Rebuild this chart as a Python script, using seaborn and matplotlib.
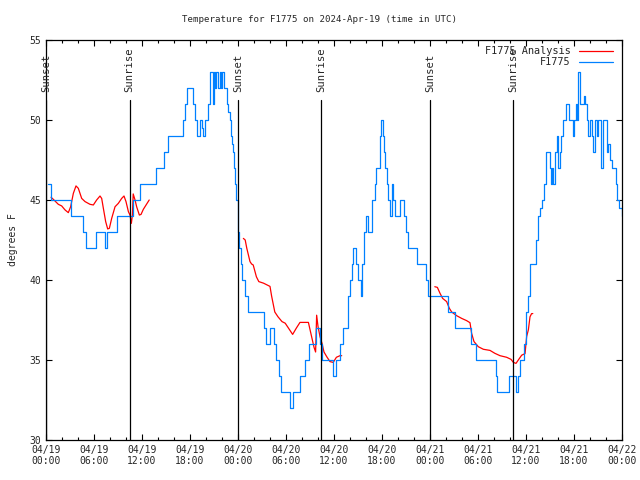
import numpy as np
import pandas as pd
import matplotlib
matplotlib.use("Agg")
import matplotlib.pyplot as plt
import seaborn as sns

# hours since 04/19 00:00 UTC
obs_hours = [0.25, 0.6, 3.1, 4.67, 5.0, 6.3, 7.35, 7.65, 8.9, 10.85, 11.75,
             13.8, 14.8, 15.3, 17.1, 17.4, 17.67, 18.4, 18.6, 18.9, 19.25, 19.45,
             19.6, 19.9, 20.3, 20.5, 20.83, 20.95, 21.1, 21.3, 21.5, 21.7, 21.85,
             22.0, 22.3, 22.6, 22.8, 22.95, 23.1, 23.25, 23.35, 23.5, 23.65, 23.8,
             24.0, 24.05, 24.1, 24.35, 24.5, 24.9, 25.3, 27.3, 27.55, 27.95, 28.5,
             28.8, 29.1, 29.4, 30.5, 30.9, 31.8, 32.4, 32.9, 33.8, 34.3, 34.5,
             35.9, 36.3, 36.75, 37.1, 37.75, 37.95, 38.2, 38.4, 38.8, 39.0, 39.35,
             39.55, 39.7, 40.0, 40.3, 40.8, 41.1, 41.3, 41.7, 41.9, 42.1, 42.2,
             42.4, 42.6, 42.8, 43.0, 43.2, 43.4, 43.6, 44.25, 44.7, 45.0, 45.3,
             46.4, 47.5, 47.8, 50.2, 51.1, 53.1, 53.7, 56.2, 56.4, 57.9, 58.75,
             59.0, 59.3, 59.8, 60.0, 60.3, 60.45, 61.3, 61.5, 61.75, 61.95, 62.25,
             62.5, 63.0, 63.1, 63.2, 63.4, 63.6, 63.83, 64.05, 64.2, 64.33, 64.46,
             64.67, 65.0, 65.4, 65.7, 65.9, 66.0, 66.2, 66.33, 66.55, 66.75, 67.2,
             67.4, 67.6, 67.8, 68.0, 68.2, 68.4, 68.6, 68.83, 69.0, 69.4, 69.65,
             70.1, 70.3, 70.5, 70.7, 71.25, 71.4, 71.6, 72.0]
obs_temps = [46, 45, 44, 43, 42, 43, 42, 43, 44, 45, 46,
             47, 48, 49, 50, 51, 52, 51, 50, 49, 50, 49.5,
             49, 50, 51, 53, 51, 53, 52, 53, 52, 53, 52,
             53, 52, 51, 50.5, 50, 49, 48.5, 48, 47, 46, 45,
             44, 43, 42, 41, 40, 39, 38, 37, 36, 37, 36,
             35, 34, 33, 32, 33, 34, 35, 36, 37, 36, 35,
             34, 35, 36, 37, 39, 40, 41, 42, 41, 40, 39,
             41, 43, 44, 43, 45, 46, 47, 49, 50, 49, 48,
             47, 46, 45, 44, 46, 45, 44, 45, 44, 43, 42,
             41, 40, 39, 38, 37, 36, 35, 34, 33, 34, 33,
             34, 35, 36, 38, 39, 41, 42.5, 44, 44.5, 45, 46,
             48, 47, 46, 47, 46, 48, 49, 47, 48, 49, 49,
             50, 51, 50, 50, 49, 50, 51, 50, 53, 51, 51.5,
             51, 50, 49, 50, 49, 48, 50, 49, 50, 47, 50,
             48, 48.5, 47.5, 47, 46, 45, 44.5, 44]

ana_seg = [1] * 38 + [2] * 36 + [3] * 31
ana_hours = [0.63, 0.92, 1.54, 1.96, 2.38, 2.79, 3.08, 3.42, 3.75, 4.04, 4.46,
             4.88, 5.5, 5.92, 6.33, 6.75, 6.96, 7.17, 7.46, 7.71, 7.92, 8.21,
             8.63, 9.04, 9.46, 9.75, 10.0, 10.3, 10.5, 10.67, 10.8, 10.9, 11.13,
             11.33, 11.67, 11.88, 12.17, 12.9,
             24.67, 24.9, 25.1, 25.5, 25.7, 25.9, 26.3, 26.6, 27.2, 27.6, 28.0,
             28.2, 28.6, 29.0, 29.5, 29.9, 30.3, 30.83, 31.3, 31.75, 32.2, 32.8,
             33.2, 33.5, 33.7, 33.83, 34.0, 34.25, 34.5, 34.75, 35.1, 35.5, 35.9,
             36.3, 36.75, 36.96,
             48.6, 48.92, 49.25, 49.58, 50.08, 50.42, 50.71, 51.33, 51.96, 52.58,
             53.0, 53.2, 53.5, 54.04, 54.67, 55.5, 56.1, 56.75, 57.58, 58.13,
             58.42, 58.75, 59.04, 59.46, 59.88, 60.08, 60.3, 60.5, 60.7, 60.8, 60.85]
ana_temps = [45.17, 45.04, 44.73, 44.63, 44.38, 44.21, 44.58, 45.42, 45.88, 45.73, 45.1,
             44.9, 44.73, 44.69, 45.0, 45.25, 45.1, 44.48, 43.65, 43.19, 43.23, 43.85,
             44.58, 44.79, 45.1, 45.25, 44.9, 44.27, 44.06, 43.54, 44.06, 45.38, 45.0,
             44.58, 44.06, 44.1, 44.42, 45.0,
             42.6, 42.5, 41.98, 41.15, 41.0, 40.94, 40.2, 39.9, 39.8, 39.7, 39.6,
             39.0, 38.0, 37.7, 37.4, 37.3, 37.0, 36.6, 37.0, 37.35, 37.35, 37.35,
             36.46, 35.8, 35.5, 37.8, 37.1, 36.46, 36.04, 35.5, 35.2, 34.9, 34.85,
             35.17, 35.27, 35.27,
             39.58, 39.54, 39.17, 38.85, 38.65, 38.23, 38.0, 37.77, 37.6, 37.46,
             37.33, 36.67, 36.15, 35.83, 35.67, 35.6, 35.42, 35.27, 35.17, 35.04,
             34.85, 34.79, 35.0, 35.3, 35.4, 36.46, 36.9, 37.7, 37.9, 37.9, 37.9]

sun_hours = [0.05, 10.45, 24.04, 34.38, 48.0, 58.4]
sun_labels = ["Sunset", "Sunrise", "Sunset", "Sunrise", "Sunset", "Sunrise"]

tick_hours = list(range(0, 73, 6))
tick_labels = ["04/19\n00:00", "04/19\n06:00", "04/19\n12:00", "04/19\n18:00",
               "04/20\n00:00", "04/20\n06:00", "04/20\n12:00", "04/20\n18:00",
               "04/21\n00:00", "04/21\n06:00", "04/21\n12:00", "04/21\n18:00",
               "04/22\n00:00"]

obs = pd.DataFrame({"hour": obs_hours, "temp": obs_temps})
ana = pd.DataFrame({"hour": ana_hours, "temp": ana_temps, "seg": ana_seg})

sns.set_style("ticks")
plt.rcParams["font.family"] = ["DejaVu Sans Mono"]
plt.rcParams["font.size"] = 6.5

fig = plt.figure(figsize=(6.4, 4.8), dpi=100)
ax = fig.add_axes([46 / 640, 1 - 440 / 480, 576 / 640, 400 / 480])

sns.lineplot(data=ana, x="hour", y="temp", units="seg", estimator=None,
             color="#ff0000", lw=0.9, ax=ax, label="F1775 Analysis")
sns.lineplot(data=obs, x="hour", y="temp", drawstyle="steps-post",
             color="#0080ff", lw=0.9, ax=ax, label="F1775")

for h, lab in zip(sun_hours, sun_labels):
    ax.plot([h, h], [30, 51.25], color="black", lw=0.9)
    ax.text(h, 51.75, lab, rotation=90, ha="center", va="bottom", fontsize=7.6)

ax.set_xlim(0, 72)
ax.set_ylim(30, 55)
ax.set_xticks(tick_hours)
ax.set_xticklabels(tick_labels)
ax.set_xticks(range(0, 73, 2), minor=True)
ax.set_yticks(range(30, 56, 5))
ax.tick_params(which="both", direction="in", top=True, right=True, labelsize=7,
               width=0.8, color="black")
ax.tick_params(which="major", length=4)
ax.tick_params(which="minor", length=2)
for s in ax.spines.values():
    s.set_color("black")
    s.set_linewidth(0.9)

ax.set_xlabel("")
ax.set_ylabel("degrees F", fontsize=7, labelpad=8)
fig.suptitle("Temperature for F1775 on 2024-Apr-19 (time in UTC)", fontsize=6.6,
             x=0.5, y=1 - 20 / 480, va="center")

# one legend entry per series
handles, labels = ax.get_legend_handles_labels()
keep = {}
for hd, lb in zip(handles, labels):
    keep.setdefault(lb, hd)
ax.legend(list(keep.values()), list(keep.keys()), loc="upper right",
          bbox_to_anchor=(0.995, 1.0), frameon=False, markerfirst=False,
          handlelength=3.3, fontsize=7.4, labelspacing=0.1, borderaxespad=0.2)

fig.savefig("out.png", dpi=100)
